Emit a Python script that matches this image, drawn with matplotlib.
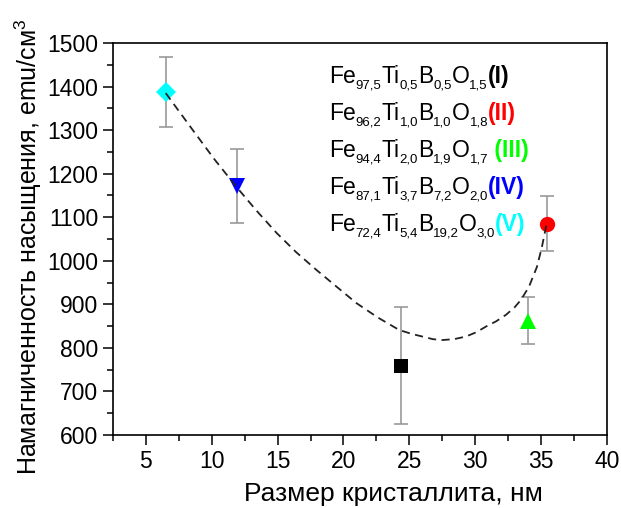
import matplotlib
matplotlib.use("Agg")
import matplotlib.pyplot as plt

plt.rcParams['font.family'] = ['Liberation Sans', 'DejaVu Sans']
plt.rcParams['mathtext.fontset'] = 'custom'
plt.rcParams['mathtext.rm'] = 'Liberation Sans'

# samples I..V
size = [24.4, 35.5, 34.0, 11.9, 6.5]
magn = [759, 1085, 862, 1172, 1387]
err = [134, 63, 54, 85, 80]
markers = ['s', 'o', '^', 'v', 'D']
colors = ['black', '#ff0000', '#00ff00', '#0000ff', '#00ffff']
msizes = [10, 11, 11, 11, 10]

elements = ['Fe', 'Ti', 'B', 'O']
indices = [['97,5', '0,5', '0,5', '1,5'],
           ['96,2', '1,0', '1,0', '1,8'],
           ['94,4', '2,0', '1,9', '1,7'],
           ['87,1', '3,7', '7,2', '2,0'],
           ['72,4', '5,4', '19,2', '3,0']]
numerals = ['(I)', '(II)', ' (III)', '(IV)', '(V)']

# dashed fit curve
curve_x = [6.5, 8.56, 10.2, 11.89, 13.4, 14.92, 16.4, 17.95, 19.5, 20.98, 22.6,
           24.24, 25.2, 26.0, 26.8, 27.5, 28.4, 29.3, 30.1, 30.83, 31.6, 32.35,
           33.0, 33.48, 34.09, 34.7, 35.08, 35.45]
curve_y = [1385, 1300, 1233, 1169, 1115, 1064, 1020, 979, 940, 903, 870,
           841, 832, 826, 820, 818, 820, 826, 836, 849, 861, 876,
           893, 910, 940, 986, 1032, 1087]

W, H = 621, 508
fig = plt.figure(figsize=(W / 100, H / 100), dpi=100)
ax = fig.add_axes([0.182, 0.1437, 0.795, 0.7717])

for x, y, e, m, c, ms in zip(size, magn, err, markers, colors, msizes):
    ax.errorbar(x, y, yerr=e, fmt='none', ecolor='#999999', elinewidth=1.2,
                capsize=5, capthick=1.2, zorder=2)
    ax.plot(x, y, marker=m, color=c, markersize=ms, markeredgewidth=0,
            linestyle='none', zorder=3)

ax.plot(curve_x, curve_y, color='#222222', linestyle=(0, (4.5, 3)), linewidth=1.3, zorder=4)

ax.set_xlim(2.5, 40)
ax.set_ylim(600, 1500)
ax.set_xticks(range(5, 41, 5))
ax.set_xticks([2.5 + 5 * i for i in range(8)], minor=True)
ax.set_yticks(range(600, 1501, 100))
ax.set_yticks(range(650, 1500, 100), minor=True)
ax.tick_params(which='major', direction='out', length=7, width=1.1, labelsize=16.5)
ax.tick_params(which='minor', direction='out', length=4, width=1.1)
for s in ax.spines.values():
    s.set_linewidth(1.2)

ax.set_xlabel('Размер кристаллита, нм', fontsize=19, va='center')
ax.xaxis.set_label_coords(0.569, -0.1505)
ax.set_ylabel('Намагниченность насыщения, emu/см$^3$', fontsize=18, va='center')
ax.yaxis.set_label_coords(-0.172, 0.48)

# legend-like text block, pieces chained left to right
fig.canvas.draw()
r = fig.canvas.get_renderer()


def piece(x, y, s, size, **kw):
    t = fig.text(x / W, y / H, s, fontsize=size, va='baseline', ha='left', **kw)
    return t.get_window_extent(renderer=r).x1


for i in range(5):
    yb = H - (82.7 + i * 37.0)
    x = 329
    for el, idx in zip(elements, indices[i]):
        x = piece(x, yb, el, 16.5)
        x = piece(x, yb - 6, idx, 9.5)
    piece(x, yb, numerals[i], 16.5, fontweight='bold', color=colors[i])

fig.savefig('out.png', dpi=100)
